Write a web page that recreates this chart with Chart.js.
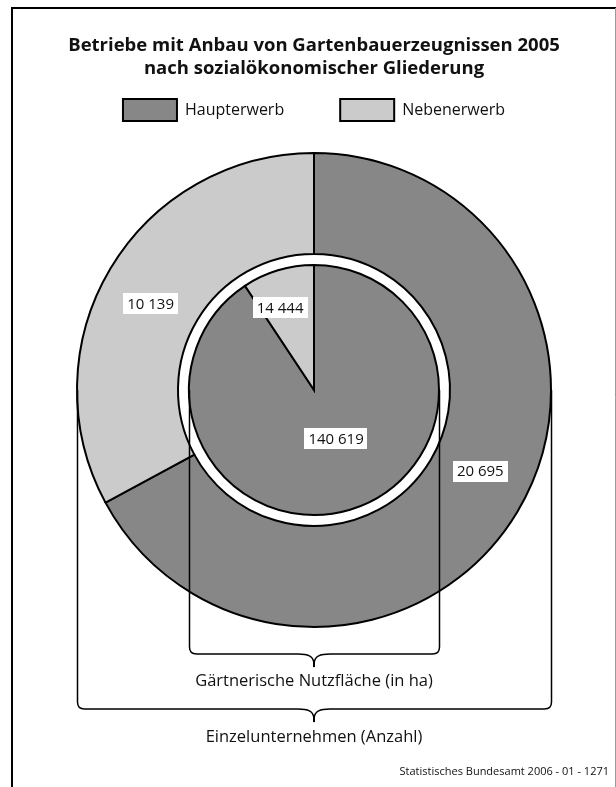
<!DOCTYPE html>
<html>
<head>
<meta charset="utf-8">
<script src="https://cdn.jsdelivr.net/npm/chart.js@4/dist/chart.umd.min.js"></script>
<style>
  html, body { margin: 0; padding: 0; background: #fff; }
  #wrap { width: 616px; height: 787px; position: relative; }
</style>
</head>
<body>
<div id="wrap"><canvas id="c" width="616" height="787"></canvas></div>
<script>
// Categories and values
const categories = ['Haupterwerb', 'Nebenerwerb'];
const betriebeAnzahl = [20695, 10139];   // Einzelunternehmen (Anzahl)  – outer ring
const nutzflaecheHa = [140619, 14444];   // Gärtnerische Nutzfläche (in ha) – inner pie
const titleLines = ['Betriebe mit Anbau von Gartenbauerzeugnissen 2005', 'nach sozialökonomischer Gliederung'];
const innerCaption = 'Gärtnerische Nutzfläche (in ha)';
const outerCaption = 'Einzelunternehmen (Anzahl)';
const sourceNote = 'Statistisches Bundesamt 2006 - 01 - 1271';

const sliceColors = ['#878787', '#cbcbcb'];
const FONT = '"Open Sans", "Noto Sans", sans-serif';

function fmt(v) { return String(v).replace(/\B(?=(\d{3})+(?!\d))/g, ' '); }

// Where each value label sits inside its slice (fraction of the angle span, fraction of the ring depth)
const labelPlacement = {
  0: [{a: 0.48, r: 0.485}, {a: 0.476, r: 0.485}],
  2: [{a: 0.477, r: 0.43}, {a: 0.33, r: 0.71}]
};

const decorPlugin = {
  id: 'decor',
  beforeDraw(chart) {
    const ctx = chart.ctx;
    ctx.save();
    ctx.fillStyle = '#fff';
    ctx.fillRect(0, 0, chart.width, chart.height);
    ctx.restore();
  },
  afterDatasetsDraw(chart) {
    const ctx = chart.ctx;
    ctx.save();
    // value labels on white boxes
    ctx.font = '15px ' + FONT;
    ctx.textAlign = 'center';
    ctx.textBaseline = 'middle';
    Object.keys(labelPlacement).forEach(di => {
      const meta = chart.getDatasetMeta(+di);
      const ds = chart.data.datasets[di];
      meta.data.forEach((arc, i) => {
        const p = arc.getProps(['x', 'y', 'startAngle', 'endAngle', 'innerRadius', 'outerRadius'], true);
        const pl = labelPlacement[di][i];
        const ang = p.startAngle + (p.endAngle - p.startAngle) * pl.a;
        const rad = p.innerRadius + (p.outerRadius - p.innerRadius) * pl.r;
        const x = p.x + Math.cos(ang) * rad;
        const y = p.y + Math.sin(ang) * rad;
        const txt = fmt(ds.data[i]);
        const w = ctx.measureText(txt).width + 8;
        const h = 21;
        ctx.fillStyle = '#fff';
        ctx.fillRect(Math.round(x - w / 2), Math.round(y - h / 2), Math.round(w), h);
        ctx.fillStyle = '#111';
        ctx.fillText(txt, x, y + 1);
      });
    });
    ctx.restore();
  },
  afterDraw(chart) {
    const ctx = chart.ctx;
    const outer = chart.getDatasetMeta(0).data[0].getProps(['x', 'y', 'outerRadius'], true);
    const inner = chart.getDatasetMeta(2).data[0].getProps(['outerRadius'], true);
    const cx = outer.x, cy = outer.y;
    ctx.save();

    // frame
    ctx.strokeStyle = '#000';
    ctx.lineWidth = 2;
    ctx.beginPath();
    ctx.moveTo(12, 787);
    ctx.lineTo(12, 8);
    ctx.lineTo(616, 8);
    ctx.stroke();
    ctx.strokeStyle = '#999';
    ctx.lineWidth = 1;
    ctx.beginPath();
    ctx.moveTo(615.5, 8);
    ctx.lineTo(615.5, 787);
    ctx.stroke();

    // title
    ctx.fillStyle = '#111';
    ctx.textAlign = 'center';
    ctx.textBaseline = 'alphabetic';
    ctx.font = 'bold 18.5px ' + FONT;
    ctx.fillText(titleLines[0], cx, 51);
    ctx.fillText(titleLines[1], cx, 74);

    // legend
    ctx.font = '16px ' + FONT;
    const boxW = 54, boxH = 22, gapBox = 8, gapItem = 56;
    const widths = categories.map(c => ctx.measureText(c).width);
    const total = widths.reduce((s, w) => s + boxW + gapBox + w, 0) + gapItem * (categories.length - 1);
    let lx = cx - total / 2;
    const ly = 99;
    ctx.textAlign = 'left';
    ctx.textBaseline = 'middle';
    categories.forEach((c, i) => {
      ctx.fillStyle = sliceColors[i];
      ctx.fillRect(lx, ly, boxW, boxH);
      ctx.strokeStyle = '#000';
      ctx.lineWidth = 2;
      ctx.strokeRect(lx, ly, boxW, boxH);
      ctx.fillStyle = '#111';
      ctx.fillText(c, lx + boxW + gapBox, ly + boxH / 2);
      lx += boxW + gapBox + widths[i] + gapItem;
    });

    // brackets below the rings
    function bracket(r, bottom) {
      const left = Math.round(cx - r) + 0.5, right = Math.round(cx + r) + 0.5;
      const rr = 7;
      ctx.strokeStyle = '#000';
      ctx.lineWidth = 1.5;
      ctx.beginPath();
      ctx.moveTo(left, cy);
      ctx.lineTo(left, bottom - rr);
      ctx.quadraticCurveTo(left, bottom, left + rr, bottom);
      ctx.lineTo(cx - 16, bottom);
      ctx.bezierCurveTo(cx - 6, bottom, cx - 1, bottom + 2, cx, bottom + 9);
      ctx.bezierCurveTo(cx + 1, bottom + 2, cx + 6, bottom, cx + 16, bottom);
      ctx.lineTo(right - rr, bottom);
      ctx.quadraticCurveTo(right, bottom, right, bottom - rr);
      ctx.lineTo(right, cy);
      ctx.stroke();
      ctx.lineWidth = 2;
      ctx.beginPath();
      ctx.moveTo(cx, bottom + 6);
      ctx.lineTo(cx, bottom + 13);
      ctx.stroke();
    }
    bracket(inner.outerRadius, 654);
    bracket(outer.outerRadius, 709);

    ctx.fillStyle = '#111';
    ctx.textAlign = 'center';
    ctx.textBaseline = 'middle';
    ctx.font = '16.5px ' + FONT;
    ctx.fillText(innerCaption, cx, 681);
    ctx.fillText(outerCaption, cx, 737);

    ctx.font = '11px ' + FONT;
    ctx.textAlign = 'right';
    ctx.fillText(sourceNote, 609, 772);
    ctx.restore();
  }
};

new Chart(document.getElementById('c'), {
  type: 'doughnut',
  data: {
    labels: categories,
    datasets: [
      { label: 'Einzelunternehmen (Anzahl)', data: betriebeAnzahl, backgroundColor: sliceColors,
        borderColor: '#000', borderWidth: 2, borderJoinStyle: 'miter', weight: 101 },
      { label: 'Zwischenraum', data: [1], backgroundColor: 'rgba(0,0,0,0)', borderWidth: 0, weight: 11 },
      { label: 'Gärtnerische Nutzfläche (in ha)', data: nutzflaecheHa, backgroundColor: sliceColors,
        borderColor: '#000', borderWidth: 2, borderJoinStyle: 'miter', weight: 125 }
    ]
  },
  options: {
    responsive: false,
    animation: false,
    events: [],
    radius: 237,
    cutout: 0,
    layout: { padding: { left: 77, right: 65, top: 153, bottom: 160 } },
    plugins: { legend: { display: false }, tooltip: { enabled: false }, title: { display: false } }
  },
  plugins: [decorPlugin]
});
</script>
</body>
</html>
